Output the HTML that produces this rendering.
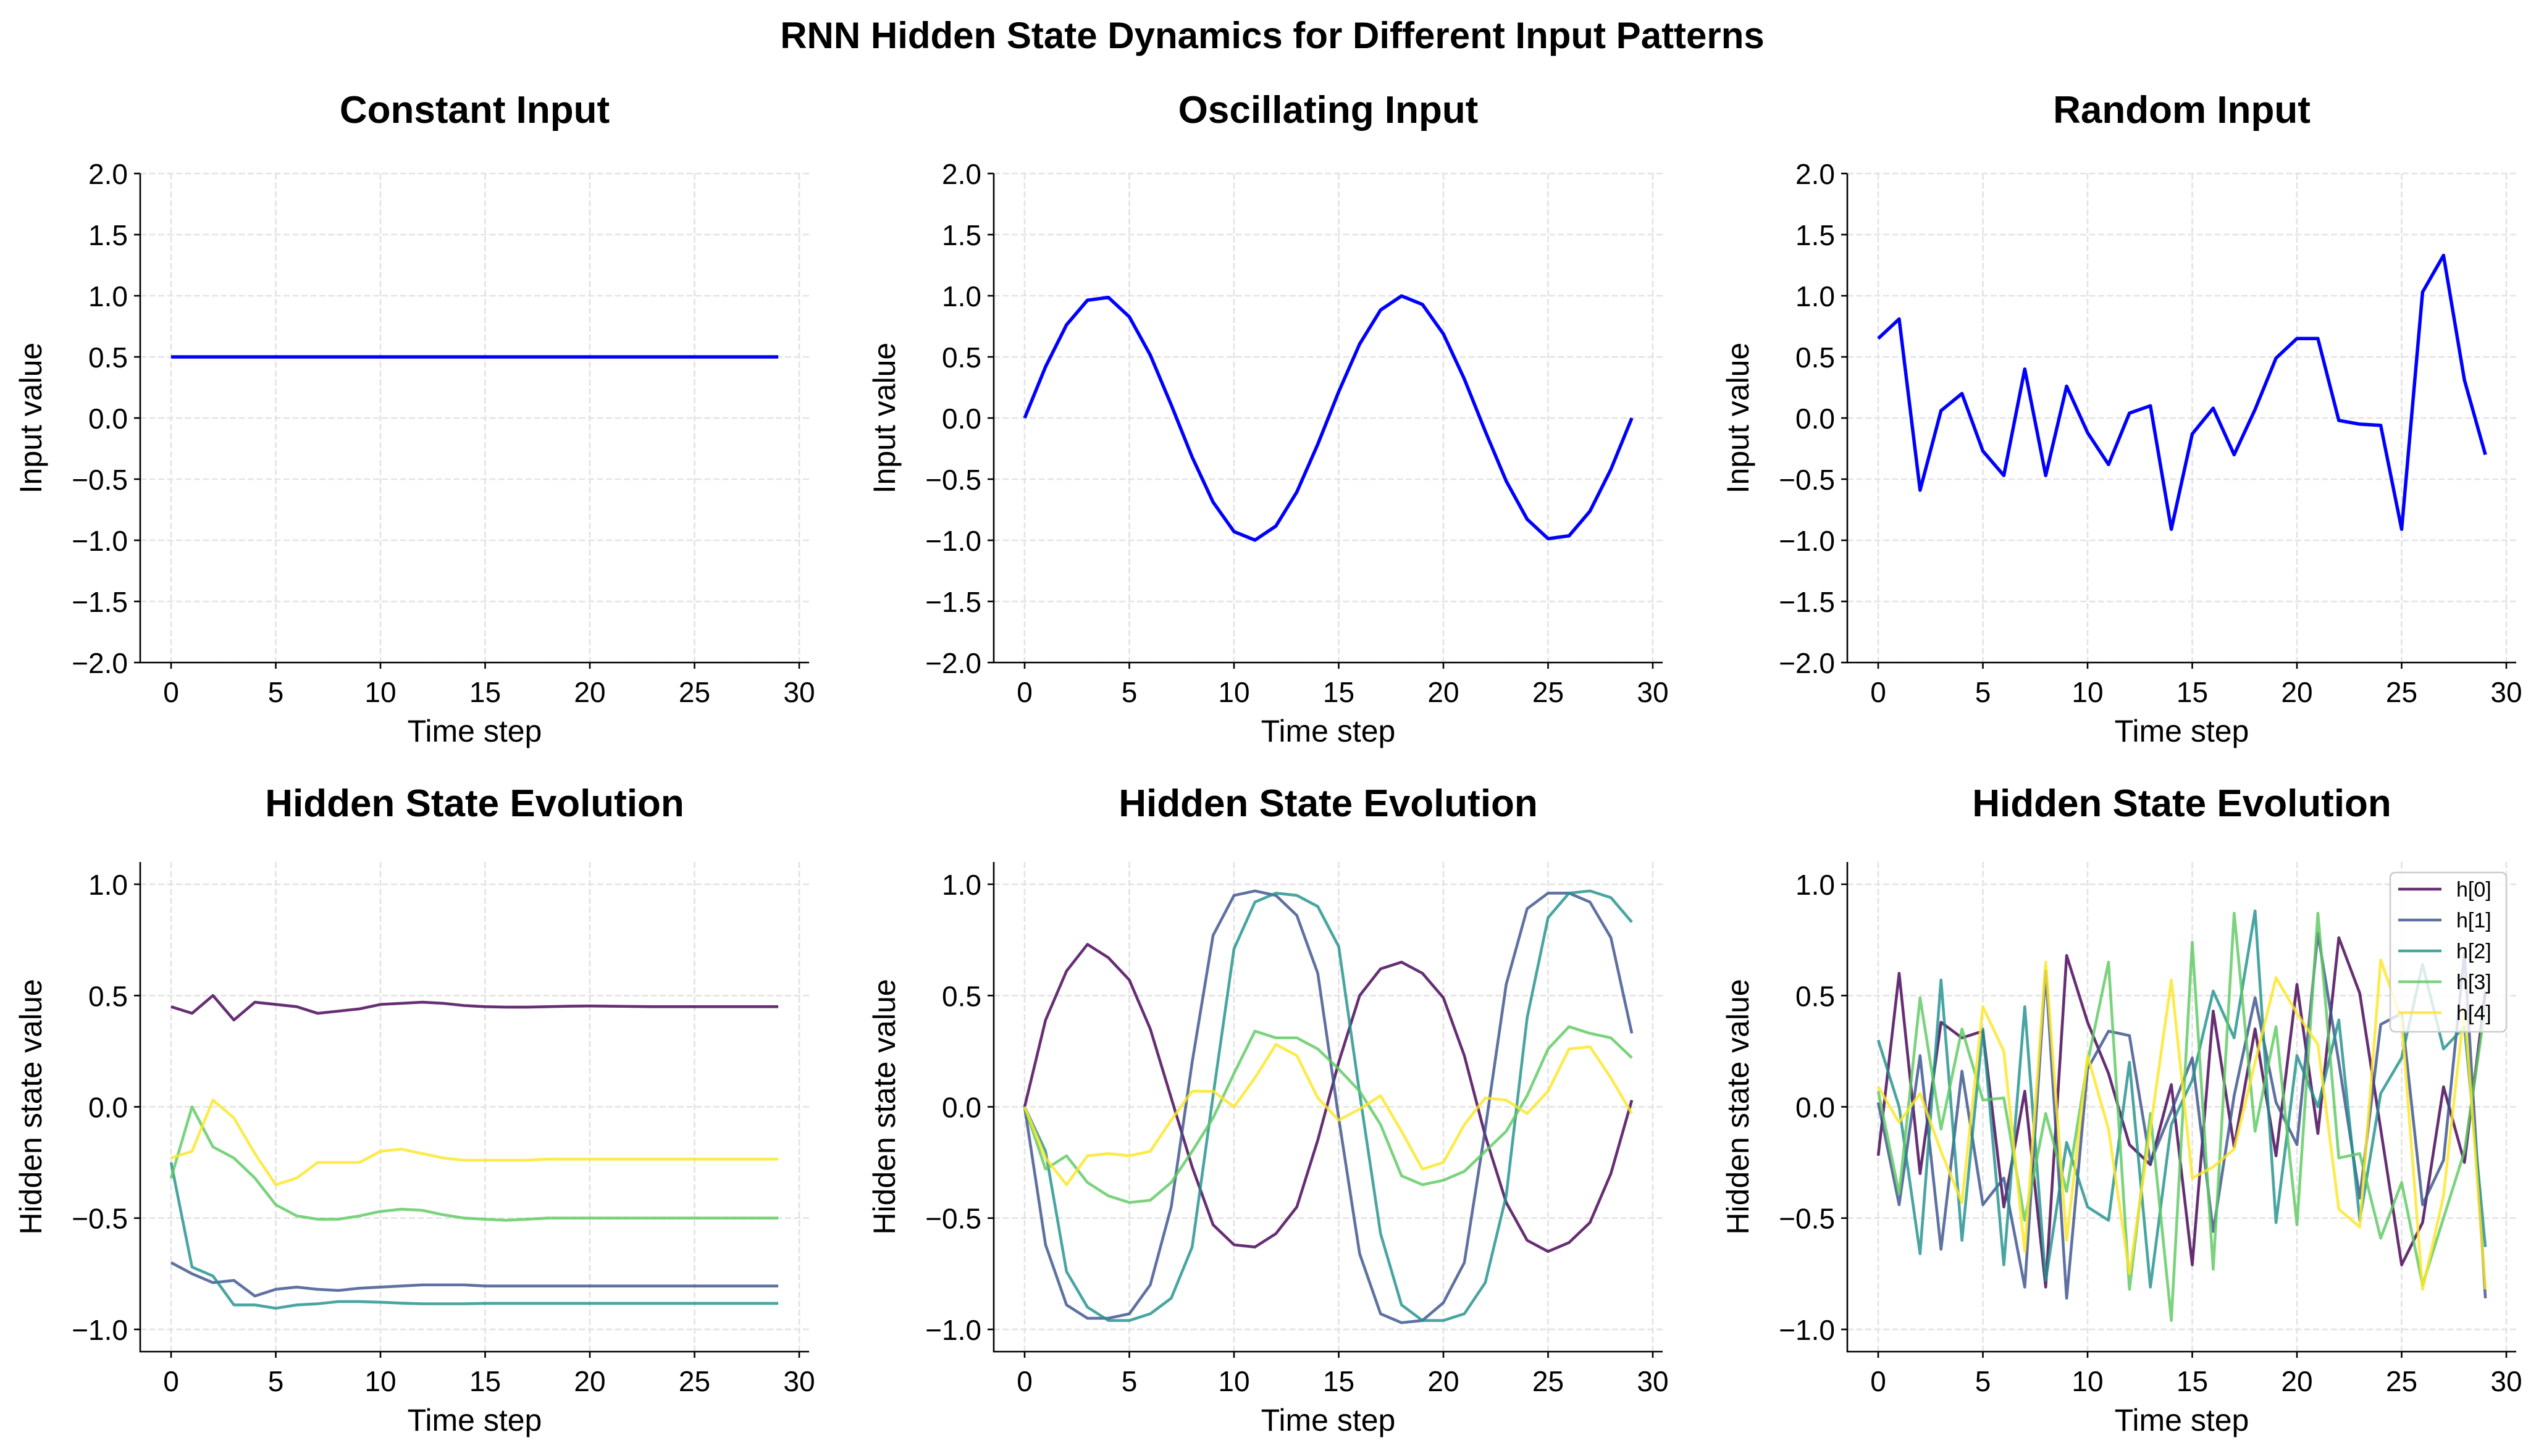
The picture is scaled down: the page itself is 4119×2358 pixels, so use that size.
<!DOCTYPE html>
<html><head><meta charset="utf-8"><style>
html,body{margin:0;padding:0;background:#fff;}
svg{display:block;font-family:"Liberation Sans","IPAGothic",sans-serif;}
</style></head><body>
<svg id="s" width="4119" height="2358" xmlns="http://www.w3.org/2000/svg"></svg>
<script>
const S=document.getElementById('s');let out='';
const X0s=[277,1659,3041];const ux=1017/30;
const rand=[0.65,0.81,-0.59,0.06,0.2,-0.27,-0.47,0.4,-0.47,0.26,-0.12,-0.38,0.04,0.1,-0.91,-0.13,0.08,-0.3,0.07,0.49,0.65,0.65,-0.02,-0.05,-0.06,-0.91,1.03,1.33,0.31,-0.3];
const sinv=[];for(let i=0;i<30;i++)sinv.push(Math.sin(4*Math.PI*i/29));
const cst=Array(30).fill(0.5);
function pad(a){while(a.length<30)a.push(a[a.length-1]);return a;}
const H=[
[pad([0.45,0.42,0.5,0.39,0.47,0.46,0.45,0.42,0.43,0.44,0.46,0.465,0.47,0.465,0.455,0.45,0.448,0.448,0.45,0.452,0.453,0.452,0.451,0.45,0.45]),
 pad([-0.7,-0.75,-0.79,-0.78,-0.85,-0.82,-0.81,-0.82,-0.825,-0.815,-0.81,-0.805,-0.80,-0.80,-0.80,-0.805]),
 pad([-0.25,-0.72,-0.76,-0.89,-0.89,-0.905,-0.89,-0.885,-0.875,-0.875,-0.878,-0.882,-0.885,-0.885,-0.885,-0.883]),
 pad([-0.32,0.0,-0.18,-0.23,-0.32,-0.44,-0.49,-0.505,-0.505,-0.49,-0.47,-0.46,-0.465,-0.485,-0.5,-0.505,-0.51,-0.505,-0.5,-0.5]),
 pad([-0.23,-0.2,0.03,-0.05,-0.21,-0.35,-0.32,-0.25,-0.25,-0.25,-0.2,-0.19,-0.21,-0.23,-0.24,-0.24,-0.24,-0.24,-0.235,-0.235])],
[[0,0.39,0.61,0.73,0.67,0.57,0.35,0.04,-0.27,-0.53,-0.62,-0.63,-0.57,-0.45,-0.15,0.2,0.5,0.62,0.65,0.6,0.49,0.23,-0.13,-0.43,-0.6,-0.65,-0.61,-0.52,-0.3,0.03],
 [0,-0.62,-0.89,-0.95,-0.95,-0.93,-0.8,-0.45,0.2,0.77,0.95,0.97,0.95,0.86,0.6,-0.05,-0.66,-0.93,-0.97,-0.96,-0.88,-0.7,-0.1,0.55,0.89,0.96,0.96,0.92,0.76,0.33],
 [0,-0.2,-0.74,-0.9,-0.96,-0.96,-0.93,-0.86,-0.63,0.05,0.71,0.92,0.96,0.95,0.9,0.72,0.06,-0.57,-0.89,-0.96,-0.96,-0.93,-0.79,-0.4,0.4,0.85,0.96,0.97,0.94,0.83],
 [0,-0.28,-0.22,-0.34,-0.4,-0.43,-0.42,-0.34,-0.2,-0.05,0.15,0.34,0.31,0.31,0.26,0.17,0.07,-0.08,-0.31,-0.35,-0.33,-0.29,-0.2,-0.11,0.05,0.26,0.36,0.33,0.31,0.22],
 [0,-0.23,-0.35,-0.22,-0.21,-0.22,-0.2,-0.06,0.07,0.07,0.0,0.13,0.28,0.23,0.04,-0.06,-0.01,0.05,-0.11,-0.28,-0.25,-0.08,0.04,0.03,-0.03,0.07,0.26,0.27,0.13,-0.03]],
[[-0.22,0.6,-0.3,0.38,0.31,0.34,-0.45,0.07,-0.81,0.68,0.38,0.15,-0.17,-0.26,0.1,-0.71,0.43,-0.18,0.35,-0.22,0.55,-0.12,0.76,0.51,-0.1,-0.71,-0.52,0.09,-0.25,0.52],
 [0.02,-0.44,0.23,-0.64,0.16,-0.44,-0.32,-0.81,0.61,-0.86,0.17,0.34,0.32,-0.25,-0.02,0.22,-0.56,0.05,0.49,0.02,-0.17,0.78,0.2,-0.41,0.37,0.42,-0.44,-0.24,0.69,-0.86],
 [0.3,0.0,-0.66,0.57,-0.6,0.35,-0.71,0.45,-0.78,-0.16,-0.45,-0.51,0.2,-0.81,-0.08,0.12,0.52,0.31,0.88,-0.52,0.23,0.0,0.39,-0.51,0.06,0.22,0.64,0.26,0.36,-0.63],
 [0.07,-0.39,0.49,-0.1,0.35,0.03,0.04,-0.51,-0.03,-0.38,0.2,0.65,-0.82,-0.03,-0.96,0.74,-0.73,0.87,-0.11,0.36,-0.53,0.87,-0.23,-0.21,-0.59,-0.34,-0.8,-0.5,-0.2,0.45],
 [0.09,-0.07,0.06,-0.2,-0.43,0.45,0.25,-0.65,0.65,-0.6,0.23,-0.1,-0.75,-0.1,0.57,-0.32,-0.27,-0.19,0.2,0.58,0.42,0.28,-0.46,-0.54,0.66,0.39,-0.82,-0.4,0.45,-0.82]]];
const cols=['#440154','#3b528b','#21918c','#5ec962','#fde725'];
function t(x,y,s,sz,anch,extra){out+=`<text x="${x}" y="${y}" font-size="${sz}" text-anchor="${anch||'middle'}" ${extra||''}>${s}</text>`;}
t(2060,78,'RNN Hidden State Dynamics for Different Input Patterns',60,'middle','font-weight="bold"');
const titles=[['Constant Input','Oscillating Input','Random Input'],['Hidden State Evolution','Hidden State Evolution','Hidden State Evolution']];
const inputs=[cst,sinv,rand];
for(let r=0;r<2;r++)for(let c=0;c<3;c++){
 const x0=X0s[c],L=x0-50,R=L+1083;
 const T=r?1396:281,B=r?2189:1073;
 const ymin=r?-1.1:-2,ymax=r?1.1:2;
 const Y=v=>B-(v-ymin)/(ymax-ymin)*(B-T);const Xp=i=>x0+i*ux;
 const yt=r?[-1,-0.5,0,0.5,1]:[-2,-1.5,-1,-0.5,0,0.5,1,1.5,2];
 for(let k=0;k<=6;k++){const x=Xp(k*5);out+=`<line x1="${x}" y1="${T}" x2="${x}" y2="${B}" stroke="#e3e3e3" stroke-width="2.6" stroke-dasharray="10,4.5"/>`;}
 for(const v of yt){const y=Y(v);out+=`<line x1="${L}" y1="${y}" x2="${R}" y2="${y}" stroke="#e3e3e3" stroke-width="2.6" stroke-dasharray="10,4.5"/>`;}
 if(r==0){out+=`<polyline fill="none" stroke="#0000ff" stroke-width="5.5" stroke-linejoin="round" points="${inputs[c].map((v,i)=>Xp(i)+','+Y(v)).join(' ')}"/>`;}
 else{H[c].forEach((a,j)=>{out+=`<polyline fill="none" stroke="${cols[j]}" stroke-opacity="0.82" stroke-width="4.6" stroke-linejoin="round" points="${a.map((v,i)=>Xp(i)+','+Y(v)).join(' ')}"/>`;});}
 out+=`<line x1="${L}" y1="${T}" x2="${L}" y2="${B+1}" stroke="#000" stroke-width="2.6"/><line x1="${L-1}" y1="${B}" x2="${R}" y2="${B}" stroke="#000" stroke-width="2.6"/>`;
 for(let k=0;k<=6;k++){const x=Xp(k*5);out+=`<line x1="${x}" y1="${B}" x2="${x}" y2="${B+10}" stroke="#000" stroke-width="2.6"/>`;t(x,B+64,k*5,46);}
 for(const v of yt){const y=Y(v);out+=`<line x1="${L-10}" y1="${y}" x2="${L}" y2="${y}" stroke="#000" stroke-width="2.6"/>`;t(L-20,y+17,(v<0?'\u2212':'')+Math.abs(v).toFixed(1),46,'end');}
 t((L+R)/2,B+128,'Time step',50);
 const yl=r?'Hidden state value':'Input value';const cy=(T+B)/2;const lx=L-160;
 t(lx,cy,yl,50,'middle',`transform="rotate(-90 ${lx} ${cy})"`);
 t((L+R)/2,r?1322:199,titles[r][c],62,'middle','font-weight="bold"');
 if(r==1&&c==2){out+=`<rect x="3870" y="1413" width="188" height="258" rx="8" fill="#fff" fill-opacity="0.8" stroke="#ccc" stroke-width="2.6"/>`;
  for(let j=0;j<5;j++){const y=1440+j*50;out+=`<line x1="3883" y1="${y}" x2="3953" y2="${y}" stroke="${cols[j]}" stroke-opacity="0.82" stroke-width="4.6"/>`;t(3977,y+12,'h['+j+']',34,'start');}}
}
S.innerHTML=out;
</script>
</body></html>
